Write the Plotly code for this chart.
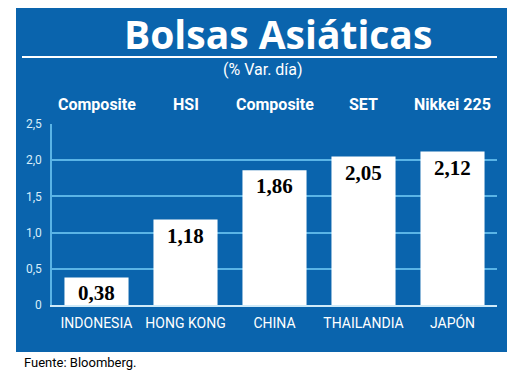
import plotly.graph_objects as go

countries = ["INDONESIA", "HONG KONG", "CHINA", "THAILANDIA", "JAPÓN"]
indices = ["Composite", "HSI", "Composite", "SET", "Nikkei 225"]
values = [0.38, 1.18, 1.86, 2.05, 2.12]
ytick_vals = [0, 0.5, 1.0, 1.5, 2.0, 2.5]
ytick_text = ["0", "0,5", "1,0", "1,5", "2,0", "2,5"]

BLUE = "#0a64ad"
GRID = "#5ab4e6"
NARROW = "Roboto, sans-serif"

W, H = 520, 385
L, R, T, B = 52, 23, 124, 80
pw, ph = W - L - R, H - T - B


def px(x):
    return (x - L) / pw


def py(y):
    return (H - B - y) / ph


fig = go.Figure()
fig.add_trace(go.Bar(
    x=countries, y=values, marker=dict(color="white", line=dict(width=0)),
    hoverinfo="skip", showlegend=False,
))

# value labels on top of bars
for c, v in zip(countries, values):
    fig.add_annotation(
        x=c, y=v, xref="x", yref="y", yanchor="top", yshift=-2,
        text=f"{v:.2f}".replace(".", ","), showarrow=False,
        font=dict(family="Liberation Serif, serif", size=21, color="black", weight="bold"),
    )

# index names above plot
for c, name in zip(countries, indices):
    fig.add_annotation(
        x=c, y=py(104), xref="x", yref="paper", yanchor="middle",
        text=name, showarrow=False,
        font=dict(family=NARROW, size=16, color="white", weight="bold"),
    )

# background panel and title rule
fig.add_shape(type="rect", xref="paper", yref="paper", layer="below",
              x0=px(16), x1=px(507), y0=py(352), y1=py(8),
              fillcolor=BLUE, line=dict(width=0))
fig.add_shape(type="line", xref="paper", yref="paper",
              x0=px(22), x1=px(497), y0=py(57), y1=py(57),
              line=dict(color="white", width=2))

fig.add_annotation(x=px(278), y=py(34), xref="paper", yref="paper",
                   xanchor="center", yanchor="middle",
                   text="<b>Bolsas Asiáticas</b>", showarrow=False,
                   font=dict(family="Open Sans, sans-serif", size=39, color="white"))
fig.add_annotation(x=px(263), y=py(69), xref="paper", yref="paper",
                   xanchor="center", yanchor="middle",
                   text="(% Var. día)", showarrow=False,
                   font=dict(family=NARROW, size=16, color="white"))
fig.add_annotation(x=px(22), y=py(362), xref="paper", yref="paper",
                   xanchor="left", yanchor="middle",
                   text="Fuente: Bloomberg.", showarrow=False,
                   font=dict(family=NARROW, size=13, color="black"))

fig.update_layout(
    width=W, height=H,
    margin=dict(l=L, r=R, t=T, b=B, pad=0, autoexpand=False),
    paper_bgcolor="white", plot_bgcolor=BLUE,
    bargap=0.28, separators=",.",
    xaxis=dict(showgrid=False, showline=True, linecolor="#cfeaf8", linewidth=2,
               ticks="", tickangle=0, automargin=False, ticklabelstandoff=4,
               tickfont=dict(family=NARROW, size=14, color="white"),
               fixedrange=True),
    yaxis=dict(range=[0, 2.5], tickvals=ytick_vals, ticktext=ytick_text,
               showgrid=True, gridcolor=GRID, gridwidth=1.5, automargin=False,
               showline=True, linecolor=GRID, linewidth=1.5, zeroline=False,
               ticks="", ticklabelstandoff=6,
               tickfont=dict(family=NARROW, size=12, color="#d8eefa"),
               fixedrange=True),
)

fig.write_html("out.html", config={"displayModeBar": False},
               post_script="document.body.style.margin='0';")
